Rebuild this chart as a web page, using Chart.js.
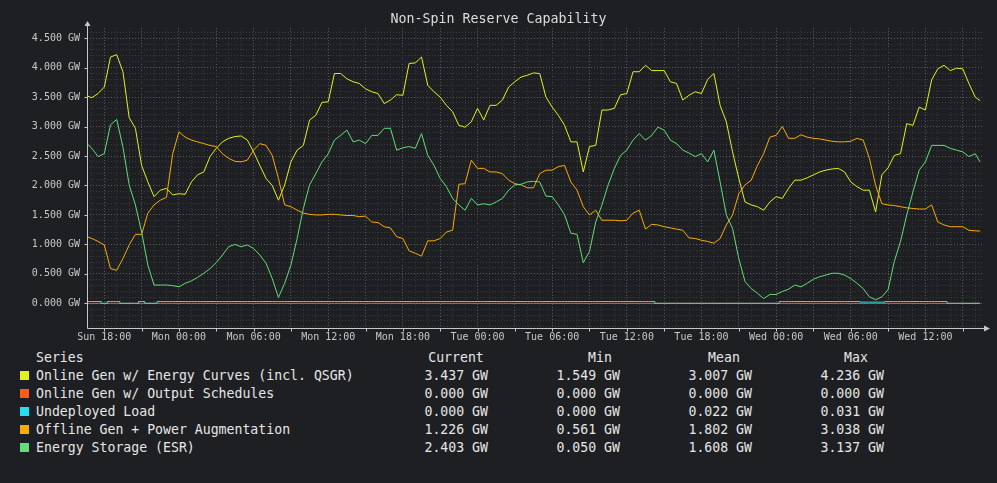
<!DOCTYPE html>
<html>
<head>
<meta charset="utf-8">
<title>Non-Spin Reserve Capability</title>
<script src="https://cdn.jsdelivr.net/npm/chart.js@4.4.1/dist/chart.umd.min.js"></script>
<style>
  body { margin: 0; background: #1e1f22; }
  #wrap { position: relative; width: 997px; height: 483px; overflow: hidden;
          font-family: 'DejaVu Sans Mono', monospace; color: #e6e6e6; }
  #myChart { position: absolute; left: 0; top: 0; }
  .lg { position: absolute; font-size: 13.2px; line-height: 18px; height: 18px; white-space: pre; }
  .sw { position: absolute; width: 9px; height: 9px; }
</style>
</head>
<body>
<div id="wrap">
  <canvas id="myChart" width="997" height="345"></canvas>
  <div id="legend"></div>
</div>
<script>
// hours relative to Sun 18:00
const hours = [
  -1.4, -1.0, -0.5,
  0, 0.5, 1, 1.5, 2, 2.5, 3, 3.5, 4, 4.5, 5, 5.5,
  6, 6.5, 7, 7.5, 8, 8.5, 9, 9.5, 10, 10.5, 11, 11.5,
  12, 12.5, 13, 13.5, 14, 14.5, 15, 15.5, 16, 16.5, 17, 17.5,
  18, 18.5, 19, 19.5, 20, 20.5, 21, 21.5, 22, 22.5, 23, 23.5,
  24, 24.5, 25, 25.5, 26, 26.5, 27, 27.5, 28, 28.5, 29, 29.5,
  30, 30.5, 31, 31.5, 32, 32.5, 33, 33.5, 34, 34.5, 35, 35.5,
  36, 36.5, 37, 37.5, 38, 38.5, 39, 39.5, 40, 40.5, 41, 41.5,
  42, 42.5, 43, 43.5, 44, 44.5, 45, 45.5, 46, 46.5, 47, 47.5,
  48, 48.5, 49, 49.5, 50, 50.5, 51, 51.5, 52, 52.5, 53, 53.5,
  54, 54.5, 55, 55.5, 56, 56.5, 57, 57.5, 58, 58.5, 59, 59.5,
  60, 60.5, 61, 61.5, 62, 62.5, 63, 63.5, 64, 64.5, 65, 65.5,
  66, 66.5, 67, 67.5, 68, 68.5, 69, 69.5, 70, 70.4
];

const onlineEnergyCurves = [
  3.52, 3.49, 3.56,
  3.67, 4.18, 4.22, 3.93, 3.15, 2.97, 2.34, 2.06, 1.81, 1.92, 1.95, 1.84,
  1.86, 1.85, 2.06, 2.18, 2.23, 2.49, 2.63, 2.74, 2.80, 2.83, 2.84, 2.77,
  2.57, 2.34, 2.12, 2.00, 1.75, 2.01, 2.40, 2.60, 2.68, 3.11, 3.19, 3.41,
  3.42, 3.90, 3.90, 3.81, 3.76, 3.73, 3.64, 3.59, 3.56, 3.39, 3.45, 3.54,
  3.53, 4.07, 4.08, 4.18, 3.70, 3.59, 3.50, 3.36, 3.25, 3.02, 2.99, 3.08,
  3.31, 3.11, 3.36, 3.36, 3.45, 3.67, 3.76, 3.84, 3.87, 3.91, 3.90, 3.50,
  3.33, 3.19, 3.02, 2.74, 2.74, 2.23, 2.66, 2.68, 3.28, 3.28, 3.31, 3.54,
  3.56, 3.93, 3.93, 4.04, 3.95, 3.95, 3.95, 3.76, 3.73, 3.45, 3.53, 3.59,
  3.56, 3.80, 3.90, 3.36, 3.08, 2.57, 2.12, 1.72, 1.67, 1.64, 1.58, 1.72,
  1.81, 1.78, 1.95, 2.09, 2.09, 2.13, 2.18, 2.23, 2.26, 2.28, 2.29, 2.23,
  2.06, 1.98, 1.92, 1.92, 1.55, 2.18, 2.30, 2.51, 2.54, 3.05, 3.02, 3.33,
  3.28, 3.79, 3.98, 4.04, 3.95, 3.99, 3.98, 3.73, 3.50, 3.44
];

const onlineOutputSchedules = [
  0, 0, 0,
  0, 0, 0, 0, 0, 0, 0, 0, 0, 0, 0, 0,
  0, 0, 0, 0, 0, 0, 0, 0, 0, 0, 0, 0,
  0, 0, 0, 0, 0, 0, 0, 0, 0, 0, 0, 0,
  0, 0, 0, 0, 0, 0, 0, 0, 0, 0, 0, 0,
  0, 0, 0, 0, 0, 0, 0, 0, 0, 0, 0, 0,
  0, 0, 0, 0, 0, 0, 0, 0, 0, 0, 0, 0,
  0, 0, 0, 0, 0, 0, 0, 0, 0, 0, 0, 0,
  0, 0, 0, 0, 0, 0, 0, 0, 0, 0, 0, 0,
  0, 0, 0, 0, 0, 0, 0, 0, 0, 0, 0, 0,
  0, 0, 0, 0, 0, 0, 0, 0, 0, 0, 0, 0,
  0, 0, 0, 0, 0, 0, 0, 0, 0, 0, 0, 0,
  0, 0, 0, 0, 0, 0, 0, 0, 0, 0
];

const undeployedLoad = [
  0.031, 0.031, 0.031,
  0, 0.031, 0.031, 0, 0, 0, 0.031, 0, 0, 0.031, 0.031, 0.031,
  0.031, 0.031, 0.031, 0.031, 0.031, 0.031, 0.031, 0.031, 0.031, 0.031, 0.031, 0.031,
  0.031, 0.031, 0.031, 0.031, 0.031, 0.031, 0.031, 0.031, 0.031, 0.031, 0.031, 0.031,
  0.031, 0.031, 0.031, 0.031, 0.031, 0.031, 0.031, 0.031, 0.031, 0.031, 0.031, 0.031,
  0.031, 0.031, 0.031, 0.031, 0.031, 0.031, 0.031, 0.031, 0.031, 0.031, 0.031, 0.031,
  0.031, 0.031, 0.031, 0.031, 0.031, 0.031, 0.031, 0.031, 0.031, 0.031, 0.031, 0.031,
  0.031, 0.031, 0.031, 0.031, 0.031, 0.031, 0.031, 0.031, 0.031, 0.031, 0.031, 0.031,
  0.031, 0.031, 0.031, 0.031, 0.031, 0, 0, 0, 0, 0, 0, 0,
  0, 0, 0, 0, 0, 0, 0, 0, 0, 0, 0, 0,
  0, 0.031, 0.031, 0.031, 0.031, 0.031, 0.031, 0.031, 0.031, 0.031, 0.031, 0.031,
  0.031, 0.031, 0.02, 0.02, 0.02, 0.02, 0.031, 0.031, 0.031, 0.031, 0.031, 0.031,
  0.031, 0.031, 0.031, 0.031, 0, 0, 0, 0, 0, 0
];

const offlineGenPowerAug = [
  1.13, 1.10, 1.05,
  0.99, 0.59, 0.56, 0.76, 0.99, 1.17, 1.17, 1.53, 1.67, 1.75, 1.80, 2.54,
  2.91, 2.82, 2.77, 2.74, 2.71, 2.68, 2.66, 2.54, 2.46, 2.41, 2.40, 2.43,
  2.60, 2.71, 2.68, 2.51, 2.12, 1.67, 1.64, 1.58, 1.53, 1.51, 1.50, 1.50,
  1.51, 1.51, 1.50, 1.49, 1.49, 1.47, 1.48, 1.38, 1.37, 1.30, 1.28, 1.13,
  1.10, 0.89, 0.85, 0.80, 1.06, 1.06, 1.10, 1.21, 1.24, 2.02, 2.03, 2.43,
  2.29, 2.29, 2.23, 2.23, 2.20, 2.09, 2.03, 2.01, 1.96, 1.96, 2.20, 2.26,
  2.26, 2.32, 2.34, 2.06, 1.92, 1.64, 1.50, 1.58, 1.41, 1.41, 1.41, 1.40,
  1.41, 1.53, 1.58, 1.26, 1.34, 1.33, 1.30, 1.28, 1.26, 1.24, 1.11, 1.10,
  1.07, 1.05, 1.02, 1.10, 1.33, 1.50, 1.86, 2.01, 2.09, 2.34, 2.54, 2.82,
  2.85, 3.00, 2.80, 2.80, 2.86, 2.82, 2.80, 2.79, 2.77, 2.75, 2.74, 2.74,
  2.75, 2.80, 2.77, 2.46, 2.00, 1.69, 1.67, 1.66, 1.64, 1.62, 1.61, 1.60,
  1.60, 1.67, 1.38, 1.33, 1.30, 1.30, 1.30, 1.24, 1.23, 1.226
];

const energyStorage = [
  2.71, 2.63, 2.49,
  2.54, 3.03, 3.12, 2.65, 2.01, 1.67, 1.21, 0.65, 0.31, 0.31, 0.31, 0.30,
  0.28, 0.34, 0.38, 0.44, 0.51, 0.59, 0.69, 0.82, 0.96, 1.00, 0.96, 0.99,
  0.93, 0.82, 0.68, 0.42, 0.10, 0.34, 0.65, 1.10, 1.61, 2.01, 2.20, 2.40,
  2.54, 2.77, 2.85, 2.94, 2.74, 2.77, 2.71, 2.85, 2.85, 2.97, 2.97, 2.60,
  2.64, 2.66, 2.63, 2.88, 2.51, 2.34, 2.12, 1.98, 1.78, 1.67, 1.58, 1.78,
  1.67, 1.69, 1.67, 1.72, 1.78, 1.92, 2.01, 2.02, 2.06, 2.07, 2.06, 1.82,
  1.81, 1.67, 1.50, 1.19, 1.17, 0.69, 0.88, 1.38, 1.67, 2.01, 2.29, 2.51,
  2.60, 2.77, 2.88, 2.77, 2.85, 2.99, 2.94, 2.77, 2.71, 2.60, 2.55, 2.49,
  2.54, 2.40, 2.60, 2.06, 1.50, 1.27, 0.76, 0.37, 0.25, 0.17, 0.08, 0.15,
  0.15, 0.20, 0.24, 0.31, 0.28, 0.34, 0.41, 0.45, 0.48, 0.51, 0.51, 0.48,
  0.42, 0.34, 0.25, 0.11, 0.06, 0.11, 0.23, 0.71, 1.05, 1.50, 1.89, 2.26,
  2.40, 2.68, 2.68, 2.68, 2.63, 2.60, 2.57, 2.49, 2.54, 2.40
];

const seriesNames = [
  "Online Gen w/ Energy Curves (incl. QSGR)",
  "Online Gen w/ Output Schedules",
  "Undeployed Load",
  "Offline Gen + Power Augmentation",
  "Energy Storage (ESR)"
];
const seriesValues = [onlineEnergyCurves, onlineOutputSchedules, undeployedLoad, offlineGenPowerAug, energyStorage];
const seriesColors = ["#e2f01e", "#ff5a1a", "#22e0f0", "#f8ac00", "#64dc78"];

const statCurrent = ["3.437 GW", "0.000 GW", "0.000 GW", "1.226 GW", "2.403 GW"];
const statMin     = ["1.549 GW", "0.000 GW", "0.000 GW", "0.561 GW", "0.050 GW"];
const statMean    = ["3.007 GW", "0.000 GW", "0.022 GW", "1.802 GW", "1.608 GW"];
const statMax     = ["4.236 GW", "0.000 GW", "0.031 GW", "3.038 GW", "3.137 GW"];

const xTickHours  = [0, 6, 12, 18, 24, 30, 36, 42, 48, 54, 60, 66];
const xTickLabels = ["Sun 18:00", "Mon 00:00", "Mon 06:00", "Mon 12:00", "Mon 18:00", "Tue 00:00",
                     "Tue 06:00", "Tue 12:00", "Tue 18:00", "Wed 00:00", "Wed 06:00", "Wed 12:00"];

const X_MIN = -1.39, X_MAX = 70.63;
const Y_MIN = -0.424, Y_MAX = 4.673;

const FONT = "'DejaVu Sans Mono', monospace";
const TICK_COLOR = "#c8c8c8";
const AXIS_COLOR = "#c8c8c8";
const GRID_MAJOR = "#5a5a5d";
const GRID_MINOR = "#38393c";

// grid positions: every hour, every 0.1 GW
const gridHours = [];
for (let h = -1; h <= 70; h++) gridHours.push(h);
const gridTenths = [];
for (let k = -4; k <= 46; k++) gridTenths.push(k);

const axisArrows = {
  id: 'axisArrows',
  afterDraw(chart) {
    const { ctx, chartArea: a, scales } = chart;
    const x0 = Math.round(a.left) + 0.5;
    const y0 = Math.round(a.bottom) + 0.5;
    ctx.save();
    ctx.strokeStyle = AXIS_COLOR;
    ctx.fillStyle = AXIS_COLOR;
    ctx.lineWidth = 1;
    ctx.beginPath();
    ctx.moveTo(x0, y0); ctx.lineTo(x0, a.top - 3);
    ctx.moveTo(x0, y0); ctx.lineTo(a.right + 2, y0);
    gridTenths.forEach(k => {
      if (k % 5 !== 0) return;
      const py = Math.round(scales.y.getPixelForValue(k / 10)) + 0.5;
      ctx.moveTo(x0 - 3, py); ctx.lineTo(x0, py);
    });
    gridHours.forEach(h => {
      if (h % 3 !== 0) return;
      const px = Math.round(scales.x.getPixelForValue(h)) + 0.5;
      ctx.moveTo(px, y0); ctx.lineTo(px, y0 + 3);
    });
    ctx.stroke();
    ctx.beginPath();
    ctx.moveTo(x0, a.top - 7);
    ctx.lineTo(x0 - 3, a.top - 2);
    ctx.lineTo(x0 + 3, a.top - 2);
    ctx.closePath();
    ctx.moveTo(a.right + 7, y0);
    ctx.lineTo(a.right + 1, y0 - 3);
    ctx.lineTo(a.right + 1, y0 + 3);
    ctx.closePath();
    ctx.fill();
    ctx.restore();
  }
};

const ctx = document.getElementById('myChart').getContext('2d');
new Chart(ctx, {
  type: 'line',
  data: {
    datasets: seriesNames.map((name, i) => ({
      label: name,
      data: seriesValues[i].map((v, j) => ({ x: hours[j], y: v })),
      borderColor: seriesColors[i],
      backgroundColor: seriesColors[i],
      borderWidth: 1,
      pointRadius: 0,
      tension: 0,
      fill: false,
      stepped: i === 2 ? 'middle' : false,
      order: seriesNames.length - i
    }))
  },
  options: {
    responsive: false,
    animation: false,
    devicePixelRatio: 1,
    layout: { padding: { left: 14, right: 14, top: 0, bottom: 0 } },
    plugins: {
      legend: { display: false },
      tooltip: { enabled: false },
      title: {
        display: true,
        text: 'Non-Spin Reserve Capability',
        color: '#dcdcdc',
        font: { family: FONT, size: 13.3, weight: 'normal', lineHeight: 1.2 },
        padding: { top: 12, bottom: 0 }
      }
    },
    scales: {
      x: {
        type: 'linear',
        min: X_MIN,
        max: X_MAX,
        afterBuildTicks: s => { s.ticks = gridHours.map(v => ({ value: v })); },
        afterFit: s => { s.height = 345 - 328.3; },
        ticks: {
          autoSkip: false,
          maxRotation: 0,
          padding: 3,
          color: TICK_COLOR,
          font: { family: FONT, size: 10 },
          callback: v => {
            const k = xTickHours.indexOf(v);
            return k >= 0 ? xTickLabels[k] : '';
          }
        },
        grid: {
          color: c => (c.tick && c.tick.value % 3 === 0) ? GRID_MAJOR : GRID_MINOR,
          drawTicks: false,
          lineWidth: 1
        },
        border: { display: false, dash: [1, 2] }
      },
      y: {
        min: Y_MIN,
        max: Y_MAX,
        afterBuildTicks: s => { s.ticks = gridTenths.map(k => ({ value: k / 10 })); },
        afterFit: s => { s.width = 73; },
        ticks: {
          autoSkip: false,
          padding: 7,
          color: TICK_COLOR,
          font: { family: FONT, size: 10 },
          callback: v => (Math.round(v * 10) % 5 === 0) ? v.toFixed(3) + ' GW' : ''
        },
        grid: {
          color: c => (c.tick && Math.round(c.tick.value * 10) % 5 === 0) ? GRID_MAJOR : GRID_MINOR,
          drawTicks: false,
          lineWidth: 1
        },
        border: { display: false, dash: [1, 2] }
      }
    }
  },
  plugins: [axisArrows]
});

// legend table below the chart
const legend = document.getElementById('legend');
function addText(text, left, top, width, align) {
  const d = document.createElement('div');
  d.className = 'lg';
  d.textContent = text;
  d.style.left = left + 'px';
  d.style.top = top + 'px';
  if (width) { d.style.width = width + 'px'; d.style.textAlign = align; }
  legend.appendChild(d);
}
const HEAD_TOP = 349, ROW_H = 18;
const colRight = [488, 620, 752, 884];
const colHeadCenter = [456, 600, 724, 856];
const colHeads = ["Current", "Min", "Mean", "Max"];
const colStats = [statCurrent, statMin, statMean, statMax];

addText("Series", 36, HEAD_TOP);
colHeads.forEach((h, c) => addText(h, colHeadCenter[c] - 60, HEAD_TOP, 120, 'center'));
seriesNames.forEach((name, i) => {
  const top = HEAD_TOP + ROW_H * (i + 1);
  const sw = document.createElement('div');
  sw.className = 'sw';
  sw.style.left = '20px';
  sw.style.top = (top + 4) + 'px';
  sw.style.background = seriesColors[i];
  legend.appendChild(sw);
  addText(name, 36, top);
  colStats.forEach((arr, c) => addText(arr[i], colRight[c] - 120, top, 120, 'right'));
});
</script>
</body>
</html>
